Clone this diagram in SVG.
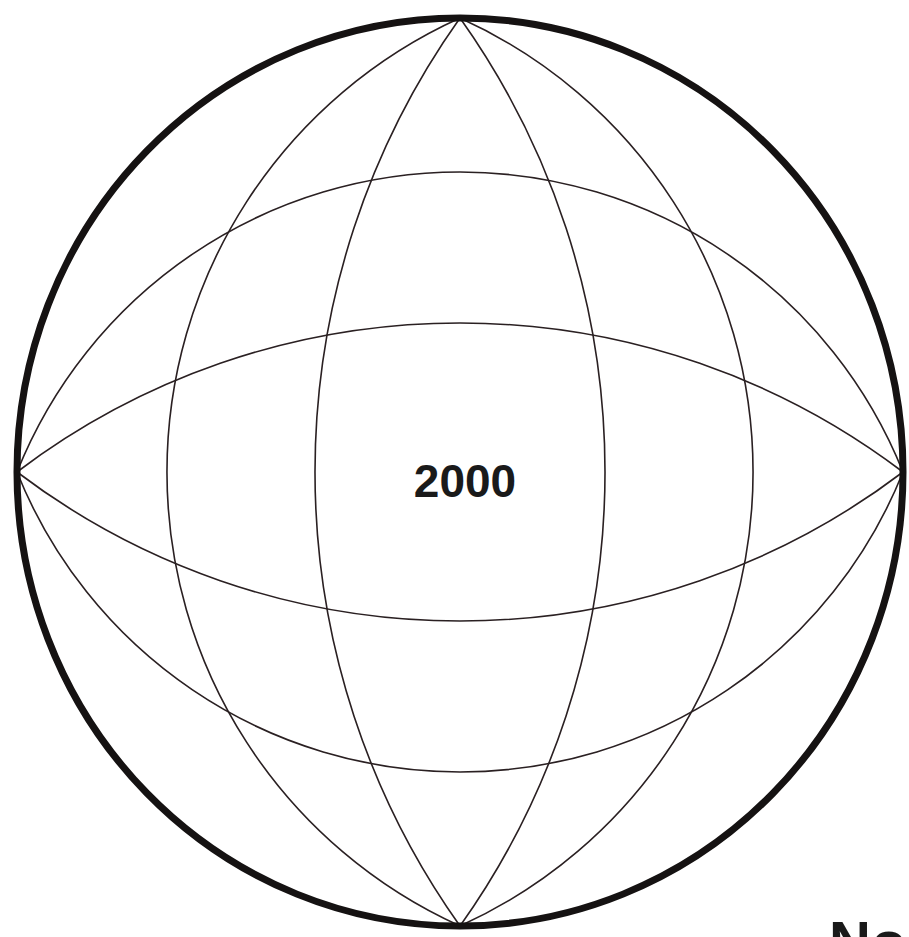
<svg xmlns="http://www.w3.org/2000/svg" width="909" height="937" viewBox="0 0 909 937">
<style>
.grid{fill:none;stroke:#2a2022;stroke-width:1.6}
.rim{fill:none;stroke:#151212;stroke-width:7}
.lbl{font-family:"Liberation Sans",Arial,sans-serif;font-weight:bold;fill:#1a1a1a}
</style>
<rect width="909" height="937" fill="#ffffff"/>
<g id="connectors">
<path class="grid" d="M460,18 A498.2,498.2 0 0 0 460,926"/>
<path class="grid" d="M460,18 A783.2,783.2 0 0 0 460,926"/>
<path class="grid" d="M460,18 A783.2,783.2 0 0 1 460,926"/>
<path class="grid" d="M460,18 A498.2,498.2 0 0 1 460,926"/>
<path class="grid" d="M17,472 A477.1,477.1 0 0 1 903,472"/>
<path class="grid" d="M17,472 A733.1,733.1 0 0 1 903,472"/>
<path class="grid" d="M17,472 A733.1,733.1 0 0 0 903,472"/>
<path class="grid" d="M17,472 A477.1,477.1 0 0 0 903,472"/>
</g>
<g id="globe">
<ellipse class="rim" cx="460" cy="472" rx="443" ry="454"/>
<text class="lbl" x="465" y="497" font-size="46" text-anchor="middle">2000</text>
</g>
<g id="corner">
<text class="lbl" x="829" y="962" font-size="58">No</text>
</g>
</svg>
